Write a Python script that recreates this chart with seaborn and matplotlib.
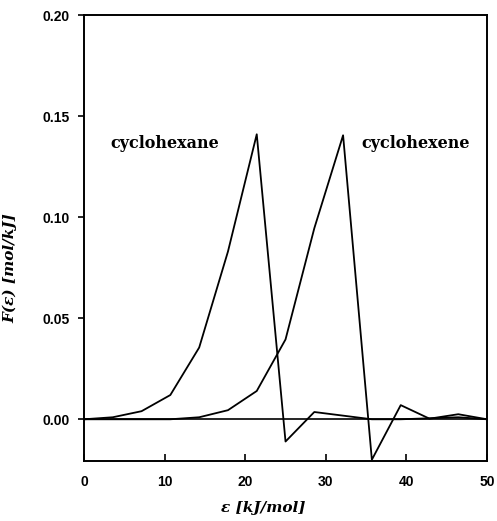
import numpy as np
import pandas as pd
import matplotlib
matplotlib.use("Agg")
import matplotlib.pyplot as plt
import seaborn as sns

# Data
energy = [0.0, 3.57, 7.14, 10.71, 14.29, 17.86, 21.43, 25.0, 28.57, 32.14, 35.71, 39.29, 42.86, 46.43, 50.0]
cyclohexane = [0.0, 0.001, 0.004, 0.012, 0.0355, 0.083, 0.141, -0.011, 0.0036, 0.0018, 0.0, 0.0, 0.0005, 0.001, 0.0]
cyclohexene = [0.0, 0.0, 0.0, 0.0, 0.001, 0.0045, 0.014, 0.0395, 0.0945, 0.1405, -0.020, 0.007, 0.0003, 0.0025, 0.0]
x_ticks = [0, 10, 20, 30, 40, 50]
y_ticks = [0.00, 0.05, 0.10, 0.15, 0.20]
labels = ["cyclohexane", "cyclohexene"]

df = pd.DataFrame({
    "energy": energy * 2,
    "F": cyclohexane + cyclohexene,
    "species": [labels[0]] * len(energy) + [labels[1]] * len(energy),
})

sns.set_theme(style="ticks")
plt.rcParams['font.family'] = ['Liberation Sans', 'DejaVu Sans']
plt.rcParams['text.color'] = 'black'
plt.rcParams['axes.labelcolor'] = 'black'

fig = plt.figure(figsize=(4.97, 5.21), dpi=100)
ax = fig.add_axes([0.169, 0.1157, 0.811, 0.8555])

sns.lineplot(data=df, x="energy", y="F", hue="species", palette=["black", "black"],
             linewidth=1.3, legend=False, ax=ax, sort=False, estimator=None)
ax.axhline(0, color="black", linewidth=1.2)

ax.set_xlim(0, 50)
ax.set_ylim(-0.0205, 0.20)
ax.set_xticks(x_ticks)
ax.set_yticks(y_ticks)
ax.set_yticklabels([f"{v:.2f}" for v in y_ticks])
ax.set_xticklabels([str(v) for v in x_ticks])
ax.tick_params(axis="x", direction="in", length=5, width=1.2, labelsize=10, pad=10, colors="black")
ax.tick_params(axis="y", direction="out", length=4, width=1.2, labelsize=10, pad=6, colors="black")
for lbl in ax.get_xticklabels() + ax.get_yticklabels():
    lbl.set_fontweight("bold")
for s in ax.spines.values():
    s.set_visible(True)
    s.set_linewidth(1.4)
    s.set_color("black")

ax.set_xlabel("ε [kJ/mol]", family="DejaVu Serif", style="italic", fontweight="bold", fontsize=11, color="black")
ax.set_ylabel("F(ε) [mol/kJ]", family="DejaVu Serif", style="italic", fontweight="bold", fontsize=11, color="black")
ax.xaxis.set_label_coords(0.444, -0.091)
ax.yaxis.set_label_coords(-0.165, 0.433)

ax.text(3.3, 0.1366, labels[0], family="DejaVu Serif", fontweight="bold", fontsize=11.5, va="center", ha="left", color="black")
ax.text(34.4, 0.1366, labels[1], family="DejaVu Serif", fontweight="bold", fontsize=11.5, va="center", ha="left", color="black")

fig.savefig("out.png", dpi=100)
